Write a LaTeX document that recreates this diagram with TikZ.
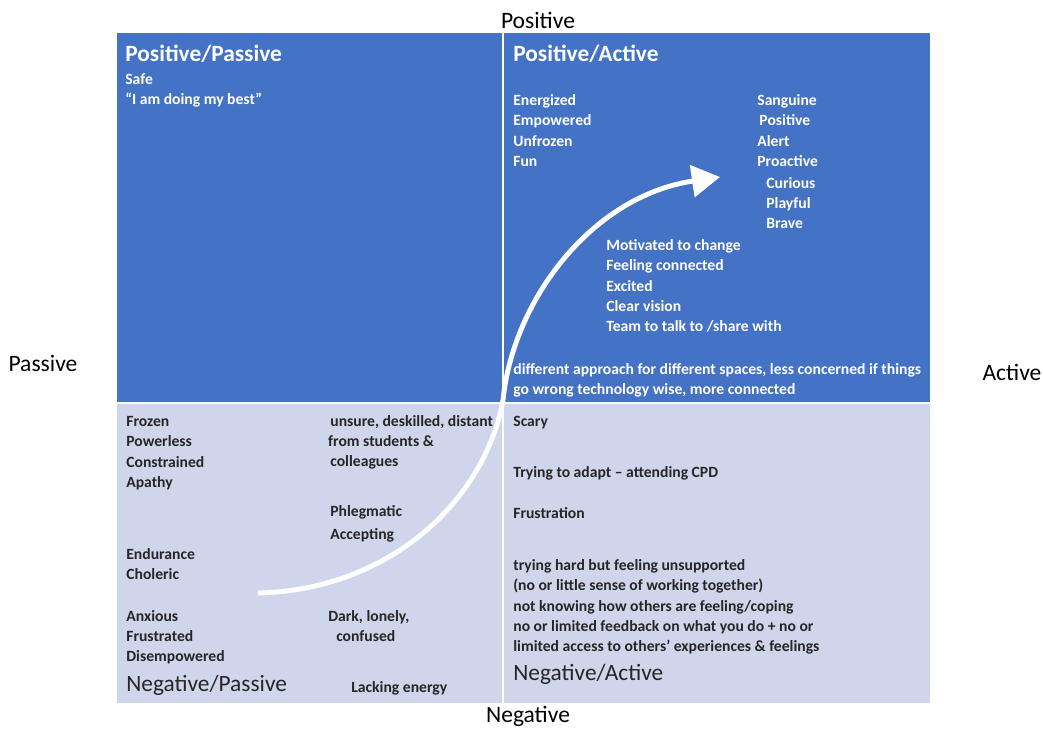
\documentclass[tikz,border=0pt]{standalone}
\usepackage{fontspec}
\setmainfont{Carlito}
\usetikzlibrary{arrows.meta}
\definecolor{quadblue}{HTML}{4472C4}
\definecolor{quadgrey}{HTML}{CFD5EA}
\definecolor{inkgrey}{HTML}{262626}

\begin{document}
\begin{tikzpicture}[x=0.02cm,y=-0.02cm,
  axis/.style={inner sep=0, font=\fontsize{13.4}{15}\selectfont, text=black},
  ttl/.style={anchor=base west, inner sep=0, font=\bfseries\fontsize{13.3}{15}\selectfont, text=white},
  neg/.style={anchor=base west, inner sep=0, font=\fontsize{13.3}{15}\selectfont, text=inkgrey},
  wtxt/.style={anchor=base west, inner sep=0, align=left, text=white, font=\bfseries\fontsize{8.9}{11.6}\selectfont},
  dtxt/.style={wtxt, text=inkgrey},
  ]
  \useasboundingbox (0,0) rectangle (1043,728);

  %%%%% QUADRANTS %%%%%
  \fill[quadblue] (117,33) rectangle (930,403);
  \fill[quadgrey] (117,403) rectangle (930,703);
  \draw[white, line width=1.2pt] (117,403) -- (930,403);
  \draw[white, line width=0.8pt] (503,33) -- (503,703);

  %%%%% AXES %%%%%
  \node[axis] (pos) at (538,20) {Positive};
  \node[axis] (negax) at (528,716) {Negative};
  \node[axis] (pas) at (43,363) {Passive};
  \node[axis] (act) at (1012,372) {Active};

  %%%%% POSITIVE / PASSIVE %%%%%
  % base = last line of each block
  \node[ttl] (pptitle) at (125,61) {Positive/Passive};
  \node[wtxt] (ppsafe) at (125,104.5) {Safe\\“I am doing my best”};

  %%%%% POSITIVE / ACTIVE %%%%%
  \node[ttl] (patitle) at (513,61) {Positive/Active};
  \node[wtxt] (paone) at (513,166.4) {Energized\\Empowered\\Unfrozen\\Fun};
  \node[wtxt] (patwo) at (757,166.4) {Sanguine\\\hspace{1.2pt}Positive\\Alert\\Proactive};
  \node[wtxt] (pathree) at (766,228.9) {Curious\\Playful\\Brave};
  \node[wtxt] (pamot) at (606,331.8) {Motivated to change\\Feeling connected\\Excited\\Clear vision\\Team to talk to /share with};
  \node[wtxt] (padiff) at (513,394.5) {different approach for different spaces, less concerned if things\\go wrong technology wise, more connected};

  %%%%% NEGATIVE / PASSIVE %%%%%
  \node[dtxt] (npfrozen) at (126,487.4) {Frozen\\Powerless\\Constrained\\Apathy};
  \node[dtxt] (npunsure) at (330,466.9) {unsure, deskilled, distant\\\hspace{-1.2pt}from students \&\\colleagues};
  \node[dtxt] (npphleg) at (330,539.1) {Phlegmatic\\[1.5pt]Accepting};
  \node[dtxt] (npendur) at (126,579.5) {Endurance\\Choleric};
  \node[dtxt] (npanx) at (126,661.9) {Anxious\\Frustrated\\Disempowered};
  \node[dtxt] (npdark) at (328,641.5) {Dark, lonely,\\\hspace{4.5pt}confused};
  \node[dtxt] (nplack) at (351,692) {Lacking energy};
  \node[neg] (nptitle) at (126,691) {Negative/Passive};

  %%%%% NEGATIVE / ACTIVE %%%%%
  \node[dtxt] (nascary) at (513,426) {Scary};
  \node[dtxt] (natry) at (513,477) {Trying to adapt – attending CPD};
  \node[dtxt] (nafrust) at (513,518) {Frustration};
  \node[dtxt] (nahard) at (513,651.8) {trying hard but feeling unsupported\\(no or little sense of working together)\\not knowing how others are feeling/coping\\no or limited feedback on what you do + no or\\limited access to others’ experiences \& feelings};
  \node[neg] (natitle) at (513,680) {Negative/Active};

  %%%%% ARROW %%%%%
  \coordinate (arrstart) at (258,593);
  \coordinate (arrmid) at (503,400);
  \coordinate (arrtip) at (720,177);
  \draw[white, line width=2.8pt, -{Triangle[length=16pt, width=18pt]}]
    (arrstart) .. controls (390,590) and (485,500) .. (arrmid)
    .. controls (513,300) and (592,196) .. (arrtip);
\end{tikzpicture}
\end{document}
